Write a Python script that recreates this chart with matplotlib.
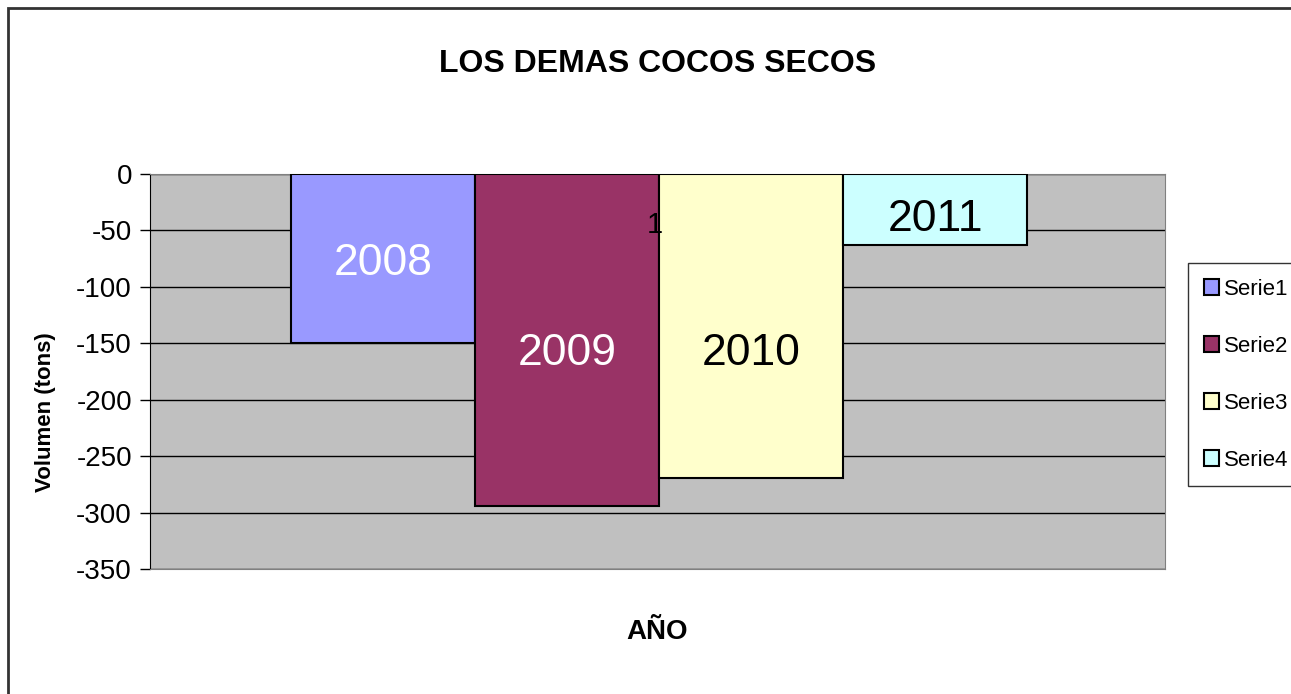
import matplotlib
matplotlib.use('Agg')
import matplotlib.pyplot as plt
from matplotlib.patches import Rectangle

# Datos
categoria = [1]
series = ['Serie1', 'Serie2', 'Serie3', 'Serie4']
valores = [-150, -294, -269, -63]
etiquetas = ['2008', '2009', '2010', '2011']
colores = ['#9999FF', '#993366', '#FFFFCC', '#CCFFFF']
color_texto = ['white', 'white', 'black', 'black']
y_etiqueta = [-79, -159, -159, -40]
yticks = [0, -50, -100, -150, -200, -250, -300, -350]

plt.rcParams['font.family'] = ['Liberation Sans', 'DejaVu Sans']

fig = plt.figure(figsize=(12.91, 6.94), dpi=100)
fig.patch.set_facecolor('white')

# Marco exterior del grafico
fig.patches.append(Rectangle((8 / 1291, -0.2), 1.2, 1.2 - 8 / 694,
                             transform=fig.transFigure, fill=False,
                             edgecolor='#333333', linewidth=2))

ax = fig.add_axes([150 / 1291, 1 - 569 / 694, 1015 / 1291, 395 / 694])
ax.set_facecolor('#C0C0C0')

ancho = 0.1813
inicio = -0.361
for i in range(len(series)):
    x = categoria[0] - 1 + inicio + ancho * i + ancho / 2
    ax.bar(x, valores[i], width=ancho, color=colores[i], edgecolor='black',
           linewidth=1.5, label=series[i], zorder=3)
    ax.text(x, y_etiqueta[i], etiquetas[i], color=color_texto[i],
            ha='center', va='center', fontsize=32, zorder=4)

# etiqueta de categoria
ax.text(-0.003, -45, '1', ha='center', va='center', fontsize=21, zorder=5)

ax.set_xlim(-0.5, 0.5)
ax.set_ylim(-350, 0)
ax.set_yticks(yticks)
ax.set_yticklabels([str(t) for t in yticks], fontsize=20)
ax.tick_params(axis='y', direction='out', length=7, width=1, pad=6)
ax.set_xticks([])
ax.yaxis.grid(True, color='black', linewidth=1, zorder=1)
ax.set_axisbelow(True)
for lado in ['top', 'bottom', 'right']:
    ax.spines[lado].set_color('#808080')
ax.spines['left'].set_color('black')

ax.set_ylabel('Volumen (tons)', fontsize=16, fontweight='bold', labelpad=10)
ax.yaxis.set_label_coords(-0.093, 0.397)
ax.set_xlabel('AÑO', fontsize=20, fontweight='bold', labelpad=36)
fig.text(658 / 1291, 1 - 64 / 694, 'LOS DEMAS COCOS SECOS', ha='center',
         va='center', fontsize=23, fontweight='bold')

leg = ax.legend(loc='upper left', bbox_to_anchor=(1188 / 1291, 1 - 263 / 694),
                bbox_transform=fig.transFigure, fontsize=16, frameon=True,
                fancybox=False, edgecolor='black', labelspacing=1.62,
                handlelength=0.7, handleheight=0.7, handletextpad=0.2,
                borderaxespad=0, borderpad=0.7)
leg.get_frame().set_linewidth(1)

fig.savefig('out.png', dpi=100)
